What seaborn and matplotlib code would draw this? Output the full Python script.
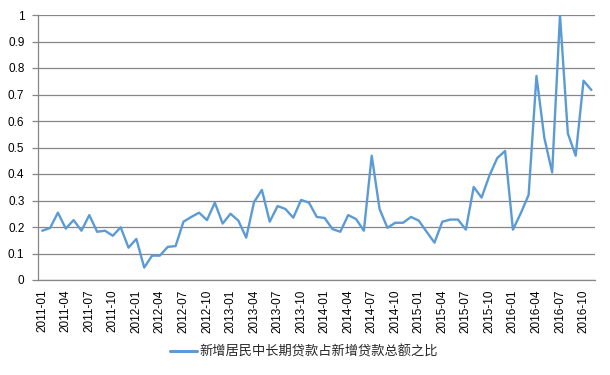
import numpy as np
import pandas as pd
import matplotlib
matplotlib.use("Agg")
import matplotlib.pyplot as plt
import seaborn as sns

months = [f"{y}-{m:02d}" for y in range(2011, 2017) for m in range(1, 13)][:71]
ratio = [0.186, 0.196, 0.254, 0.194, 0.226, 0.186, 0.245, 0.182, 0.186, 0.167,
         0.199, 0.122, 0.155, 0.047, 0.092, 0.092, 0.125, 0.128, 0.220, 0.238,
         0.254, 0.226, 0.292, 0.213, 0.250, 0.224, 0.160, 0.294, 0.340, 0.220,
         0.279, 0.268, 0.235, 0.302, 0.292, 0.238, 0.234, 0.192, 0.182, 0.245,
         0.230, 0.186, 0.469, 0.268, 0.197, 0.216, 0.216, 0.238, 0.224, 0.182,
         0.141, 0.220, 0.228, 0.228, 0.190, 0.351, 0.311, 0.394, 0.460, 0.487,
         0.190, 0.252, 0.321, 0.770, 0.537, 0.406, 1.000, 0.553, 0.469, 0.752,
         0.717]
series_name = "新增居民中长期贷款占新增贷款总额之比"
yticks = [0, 0.1, 0.2, 0.3, 0.4, 0.5, 0.6, 0.7, 0.8, 0.9, 1]
ytick_labels = ["0", "0.1", "0.2", "0.3", "0.4", "0.5", "0.6", "0.7", "0.8", "0.9", "1"]

df = pd.DataFrame({"idx": np.arange(len(months)), "month": months, "value": ratio})

sns.set_style("white")
plt.rcParams["font.family"] = ["Liberation Sans", "Noto Sans CJK SC", "DejaVu Sans"]

fig = plt.figure(figsize=(6.1, 3.75), dpi=100)
ax = fig.add_axes([38.3 / 610, 1 - 280 / 375, (595.3 - 38.3) / 610, (280 - 15) / 375])

grid_col = "#868686"
line_col = "#5B9BD5"

sns.lineplot(data=df, x="idx", y="value", ax=ax, color=line_col, linewidth=1.7,
             label=series_name, zorder=3)

ax.set_xlim(-0.5, len(months) - 0.5)
ax.set_ylim(0, 1)
ax.set_yticks(yticks)
ax.set_yticklabels(ytick_labels)
ax.yaxis.grid(True, color=grid_col, linewidth=0.9)
ax.xaxis.grid(False)

label_pos = list(range(0, len(months), 3))
ax.set_xticks(label_pos)
ax.set_xticklabels([months[i] for i in label_pos], rotation=90)
ax.set_xticks([i - 0.5 for i in label_pos], minor=True)
ax.tick_params(axis="x", which="major", length=0, pad=7, labelsize=8.5, colors="black")
ax.tick_params(axis="x", which="minor", length=4, width=0.9, color=grid_col, direction="out")
ax.tick_params(axis="y", which="major", length=4, width=0.9, color=grid_col, direction="out",
               pad=6, labelsize=8.5, labelcolor="black", left=True)

for s in ["top", "right"]:
    ax.spines[s].set_visible(False)
for s in ["left", "bottom"]:
    ax.spines[s].set_color(grid_col)
    ax.spines[s].set_linewidth(0.9)
    ax.spines[s].set_zorder(4)

ax.set_xlabel("")
ax.set_ylabel("")

leg = ax.legend(loc="center", bbox_to_anchor=(304 / 610, 1 - 352 / 375),
                bbox_transform=fig.transFigure, frameon=False,
                prop={"family": ["Noto Sans CJK SC", "DejaVu Sans"], "size": 9.5},
                handlelength=2.1, handletextpad=0.2)
for h in leg.get_lines():
    h.set_linewidth(2.2)

fig.savefig("out.png", dpi=100)
